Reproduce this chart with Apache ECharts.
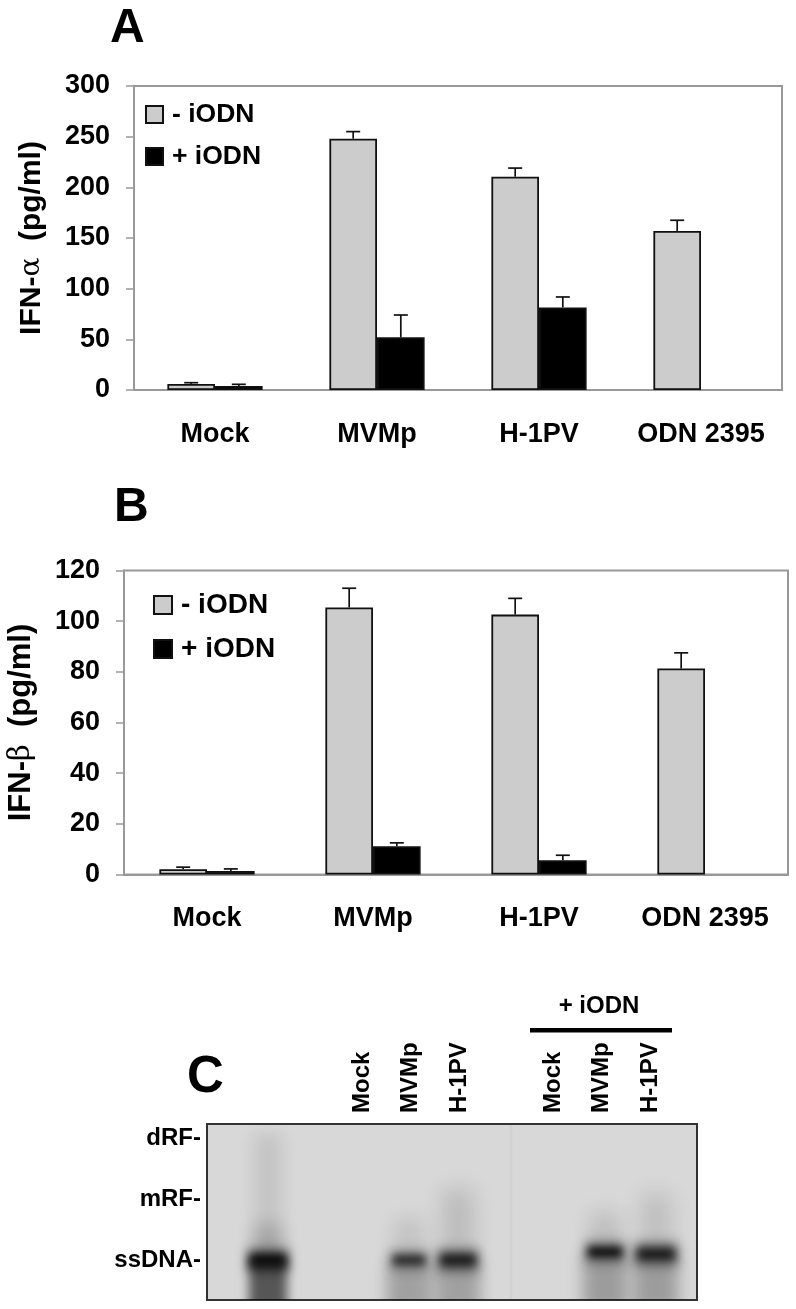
<!DOCTYPE html>
<html>
<head>
<meta charset="utf-8">
<style>
  html, body { margin: 0; padding: 0; background: #fff; }
  #main { width: 796px; height: 1309px; }
</style>
</head>
<body>
<div id="main"></div>
<script src="https://cdn.jsdelivr.net/npm/echarts@6/dist/echarts.min.js"></script>
<script>
const categories = ['Mock', 'MVMp', 'H-1PV', 'ODN 2395']

// panel A, IFN-alpha
const alphaMinus = [6, 248, 210.5, 157]
const alphaMinusErr = [1.2, 7, 8.5, 10.5]
const alphaPlus = [4, 52, 81.5, null]
const alphaPlusErr = [1.6, 22, 10.3, null]

// panel B, IFN-beta
const betaMinus = [2.1, 105.4, 102.6, 81.3]
const betaMinusErr = [0.8, 7.6, 6.4, 6.2]
const betaPlus = [1.4, 11.2, 5.6, null]
const betaPlusErr = [0.8, 1.3, 2, null]

// panel C, gel lanes and bands (units = lane / migration on the blot)
const gelLaneAt = [155, 203, 252, 346, 394, 443]
const gelLaneNames = ['Mock', 'MVMp', 'H-1PV', 'Mock', 'MVMp', 'H-1PV']
const gelMarkAt = [14, 75, 136]
const gelMarkNames = ['dRF-', 'mRF-', 'ssDNA-']
// per lane: upper smear, lower smear, halo, core
const gelBandX = [61, 61, 61, 61, 61, 202, 202, 202, 202, 251, 251, 251, 251, 398, 398, 398, 398, 449, 449, 449, 449, 304]
const gelBandY = [73, 118, 160, 136, 136, 115, 163, 136, 136, 100, 163, 136, 136, 108, 158, 128, 128, 100, 158, 130, 130, 88]
const gelBandW = [26, 30, 38, 42, 36, 30, 44, 38, 32, 30, 44, 42, 36, 30, 44, 40, 34, 30, 44, 44, 38, 2]
const gelBandH = [126, 36, 50, 24, 12, 42, 54, 22, 9, 70, 54, 26, 12, 40, 60, 24, 10, 60, 60, 26, 12, 176]
const gelBandBlur = [18, 16, 10, 12, 10, 20, 16, 12, 9, 22, 16, 12, 10, 20, 16, 12, 8, 22, 16, 12, 10, 2]
const gelBandDark = [0.1, 0.15, 0.6, 0.4, 0.95, 0.1, 0.26, 0.25, 0.8, 0.14, 0.26, 0.3, 0.85, 0.12, 0.28, 0.3, 0.98, 0.12, 0.28, 0.3, 0.85, 0.04]

const font = 'Liberation Sans'
const OFFSCREEN = 2000

function errorSeries (gridIdx, minus, minusErr, plus, plusErr, barFrac) {
  let data = []
  categories.forEach((c, i) => {
    if (minus[i] != null) data.push([i, minus[i], minusErr[i], -1])
    if (plus[i] != null) data.push([i, plus[i], plusErr[i], 1])
  })
  return {
    type: 'custom',
    xAxisIndex: gridIdx,
    yAxisIndex: gridIdx,
    silent: true,
    animation: false,
    z: 5,
    encode: { x: 0, y: 1 },
    data: data,
    renderItem (params, api) {
      let band = api.size([1, 0])[0]
      let base = api.coord([api.value(0), api.value(1)])
      let top = api.coord([api.value(0), api.value(1) + api.value(2)])
      let x = base[0] + api.value(3) * band * barFrac / 2
      let style = { stroke: '#111', lineWidth: 1.7, fill: null }
      return {
        type: 'group',
        children: [
          { type: 'line', shape: { x1: x, y1: base[1], x2: x, y2: top[1] }, style: style },
          { type: 'line', shape: { x1: x - 7, y1: top[1], x2: x + 7, y2: top[1] }, style: style }
        ]
      }
    }
  }
}

function barSeries (gridIdx, name, values, color, barFrac) {
  return {
    type: 'bar',
    name: name,
    xAxisIndex: gridIdx,
    yAxisIndex: gridIdx,
    data: values,
    barWidth: (barFrac * 100) + '%',
    barGap: 0,
    silent: true,
    animation: false,
    itemStyle: { color: color, borderColor: '#111', borderWidth: 1.8 }
  }
}

function chartXAxis (gridIdx) {
  return {
    type: 'category',
    gridIndex: gridIdx,
    data: categories,
    axisLine: { lineStyle: { color: '#999', width: 2 } },
    axisTick: { length: 8, lineStyle: { color: '#ccc', width: 1 } },
    axisLabel: { interval: 0, margin: 31, color: '#000', fontFamily: font, fontWeight: 'bold', fontSize: 27 }
  }
}

function chartYAxis (gridIdx, max, interval, greek, nameSize, gap) {
  return {
    type: 'value',
    gridIndex: gridIdx,
    min: 0,
    max: max,
    interval: interval,
    name: '{b|IFN-}{g|' + greek + '}{b|  (pg/ml)}',
    nameLocation: 'middle',
    nameGap: gap,
    nameTextStyle: {
      rich: {
        b: { fontFamily: font, fontWeight: 'bold', fontSize: nameSize, color: '#000' },
        g: { fontFamily: 'DejaVu Serif', fontWeight: 'normal', fontSize: nameSize - 2, color: '#000' }
      }
    },
    axisLine: { show: true, lineStyle: { color: '#999', width: 2 } },
    axisTick: { show: true, length: 8, lineStyle: { color: '#999', width: 1.5 } },
    splitLine: { show: false },
    axisLabel: { margin: 24, padding: [4, 0, 0, 0], color: '#000', fontFamily: font, fontWeight: 'bold', fontSize: 27 }
  }
}

function chartLegend (left, top, size, textSize, gap) {
  return {
    left: left,
    top: top,
    padding: 0,
    orient: 'vertical',
    icon: 'rect',
    itemWidth: size,
    itemHeight: size,
    itemGap: gap,
    selectedMode: false,
    data: ['- iODN', '+ iODN'],
    textStyle: {
      fontFamily: font, fontWeight: 'bold', fontSize: textSize, color: '#000',
      padding: [0, 0, 0, 4]
    }
  }
}

const panelLetter = (text, left, top, size) => ({
  text: text,
  left: left,
  top: top,
  padding: 0,
  textStyle: { fontFamily: font, fontWeight: 'bold', fontSize: size, color: '#000' }
})

let chart = echarts.init(document.getElementById('main'), null, { renderer: 'canvas' })

let option = {
  backgroundColor: '#fff',
  title: [
    panelLetter('A', 110, 5, 48),
    panelLetter('B', 114, 484, 48),
    panelLetter('C', 187, 1052, 51)
  ],
  grid: [
    { left: 134, top: 86, width: 648, height: 304, outerBoundsMode: 'none', show: true, borderColor: '#999', borderWidth: 2, backgroundColor: '#fff' },
    { left: 124, top: 570.5, width: 664, height: 304, outerBoundsMode: 'none', show: true, borderColor: '#999', borderWidth: 2, backgroundColor: '#fff' },
    { left: 207, top: 1124, width: 490, height: 176, outerBoundsMode: 'none', show: true, borderColor: '#333', borderWidth: 2, backgroundColor: '#d8d8d8' }
  ],
  legend: [
    chartLegend(145, 101, 17, 26.5, 15),
    chartLegend(153, 591, 18, 28, 16)
  ],
  xAxis: [
    chartXAxis(0),
    chartXAxis(1),
    {
      type: 'value',
      gridIndex: 2,
      position: 'top',
      min: 0,
      max: 490,
      axisLine: { show: false },
      axisTick: { show: false },
      splitLine: { show: false },
      axisLabel: {
        customValues: gelLaneAt,
        rotate: 90,
        margin: 11,
        color: '#000',
        fontFamily: font,
        fontWeight: 'bold',
        fontSize: 24,
        formatter: v => gelLaneNames[gelLaneAt.indexOf(v)]
      }
    }
  ],
  yAxis: [
    chartYAxis(0, 300, 50, 'α', 30, 87),
    chartYAxis(1, 120, 20, 'β', 31, 87),
    {
      type: 'value',
      gridIndex: 2,
      inverse: true,
      min: 0,
      max: 176,
      axisLine: { show: false },
      axisTick: { show: false },
      splitLine: { show: false },
      axisLabel: {
        customValues: gelMarkAt,
        margin: 6,
        color: '#000',
        fontFamily: font,
        fontWeight: 'bold',
        fontSize: 24,
        formatter: v => gelMarkNames[gelMarkAt.indexOf(v)]
      }
    }
  ],
  series: [
    barSeries(0, '- iODN', alphaMinus, '#cccccc', 0.294),
    barSeries(0, '+ iODN', alphaPlus, '#000000', 0.294),
    errorSeries(0, alphaMinus, alphaMinusErr, alphaPlus, alphaPlusErr, 0.294),
    barSeries(1, '- iODN', betaMinus, '#cccccc', 0.287),
    barSeries(1, '+ iODN', betaPlus, '#000000', 0.287),
    errorSeries(1, betaMinus, betaMinusErr, betaPlus, betaPlusErr, 0.287),
    {
      type: 'custom',
      xAxisIndex: 2,
      yAxisIndex: 2,
      silent: true,
      animation: false,
      clip: true,
      encode: { x: 0, y: 1 },
      data: gelBandX.map((x, i) => [x, gelBandY[i], gelBandW[i], gelBandH[i], gelBandBlur[i], gelBandDark[i]]),
      // only the blurred shadow of each band lands on the blot
      renderItem (params, api) {
        let c = api.coord([api.value(0), api.value(1)])
        let s = api.size([api.value(2), api.value(3)])
        return {
          type: 'rect',
          shape: { x: c[0] - s[0] / 2 - OFFSCREEN, y: c[1] - s[1] / 2, width: s[0], height: s[1] },
          style: {
            fill: '#000',
            shadowColor: 'rgba(0,0,0,' + api.value(5) + ')',
            shadowBlur: api.value(4),
            shadowOffsetX: OFFSCREEN
          }
        }
      }
    }
  ],
  graphic: [
    {
      type: 'text',
      x: 599,
      y: 1006,
      style: {
        text: '+ iODN',
        align: 'center',
        verticalAlign: 'middle',
        fontFamily: font,
        fontWeight: 'bold',
        fontSize: 24,
        fill: '#000'
      }
    },
    { type: 'rect', shape: { x: 530, y: 1028, width: 142, height: 4.5 }, style: { fill: '#000' } }
  ]
}

chart.setOption(option)
</script>
</body>
</html>
